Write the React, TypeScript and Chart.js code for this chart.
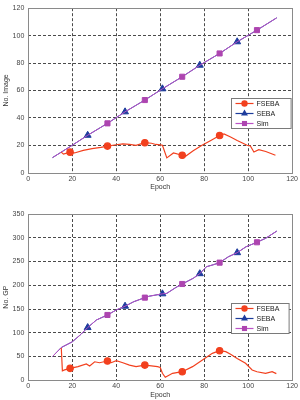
import React, { useEffect, useRef } from 'react';
import { Chart, registerables } from 'chart.js';

Chart.register(...registerables);

const FONT = '"Liberation Sans", Arial, Helvetica, sans-serif';

// ---- Upper panel: No. Image per epoch ----
const imgFsebaEpoch = [15, 16, 19, 21, 25, 29, 33, 36, 40, 43, 46, 49, 53, 56, 58, 60, 61, 63, 66, 70, 71.5, 75, 79, 83, 87, 89, 92, 95, 99.5, 101, 102.6, 104.8, 108, 112.4];
const imgFsebaValue = [15, 13.5, 15, 14.4, 16.3, 17.5, 18.5, 19.4, 20.4, 21, 20.6, 20, 21.9, 21.5, 20.6, 20.3, 20, 10.8, 14.4, 12.7, 12, 16, 20, 23.5, 27.1, 28.3, 26, 23.5, 20, 19.5, 15.1, 16.8, 15.5, 12.7];
const imgSebaEpoch = [11, 19, 27, 36, 44, 53, 61, 70, 78, 87, 95, 104, 113];
const imgSebaValue = [11, 19, 27.3, 36, 44.4, 53, 61.2, 70, 78.4, 87, 95.5, 104, 113];
const imgSimEpoch = [11, 19, 27, 36, 44, 53, 61, 70, 78, 87, 95, 104, 113];
const imgSimValue = [11, 19, 27.3, 36, 44.4, 53, 61.2, 70, 78.4, 87, 95.5, 104, 113];

// ---- Lower panel: No. GP per epoch ----
const gpFsebaEpoch = [15, 15.5, 16.5, 19, 22.6, 26.4, 27.9, 30.2, 32.4, 36, 37.7, 40, 43, 46, 49, 53, 55, 58.8, 60, 61, 62.3, 65.6, 70, 74.7, 79.2, 83.7, 87, 89.8, 92, 95, 98.8, 101.8, 104, 107.9, 110.9, 112.8];
const gpFsebaValue = [68, 20, 22, 25.2, 28.7, 34.3, 30, 39, 37, 40.6, 37, 41.3, 37, 32, 28.7, 32, 31, 28.7, 27, 14.7, 6.3, 14.7, 18.1, 28.7, 42.7, 56.8, 62.3, 60.2, 55, 46, 35.8, 21.7, 18, 14.7, 18, 14];
const gpSebaEpoch = [11, 15, 20, 24, 27, 31, 36, 40, 44, 48, 53, 55, 61, 63, 67, 70, 75, 78, 81, 84, 87, 91, 95, 99, 104, 108, 113];
const gpSebaValue = [50, 69, 81, 97, 111, 127, 137.5, 148, 156, 165.5, 174, 177, 182, 183, 195, 202.7, 214.7, 224.4, 239, 243, 247.6, 260, 268.6, 281, 290.5, 299, 314];
const gpSimEpoch = [11, 15, 20, 24, 27, 31, 36, 40, 44, 48, 53, 55, 61, 63, 67, 70, 75, 78, 81, 84, 87, 91, 95, 99, 104, 108, 113];
const gpSimValue = [50, 69, 81, 97, 111, 127, 137.5, 148, 156, 165.5, 174, 177, 182, 183, 195, 202.7, 214.7, 224.4, 239, 243, 247.6, 260, 268.6, 281, 290.5, 299, 314];

// Epochs that carry a marker on each curve
const fsebaMarkers = [19, 36, 53, 70, 87];
const sebaMarkers = [27, 44, 61, 78, 95];
const simMarkers = [36, 53, 70, 87, 104];

const seriesNames = ['FSEBA', 'SEBA', 'Sim'];
const xTicksMax = 120;

const RED = '#f2401e';
const BLUE = '#1d3c9c';
const PURPLE = '#bb52c6';
const PURPLE_MARK = '#ad45b0';

function pts(xs: number[], ys: number[]) {
  return xs.map((x, i) => ({ x, y: ys[i] }));
}

function markerShape(ctx: CanvasRenderingContext2D, style: string, x: number, y: number, r: number) {
  ctx.beginPath();
  if (style === 'circle') {
    ctx.arc(x, y, r, 0, Math.PI * 2);
  } else if (style === 'triangle') {
    const h = r * 1.5;
    ctx.moveTo(x, y - r);
    ctx.lineTo(x + r * 0.866, y + r * 0.5);
    ctx.lineTo(x - r * 0.866, y + r * 0.5);
    ctx.closePath();
    void h;
  } else {
    const s = r * Math.SQRT1_2;
    ctx.rect(x - s, y - s, 2 * s, 2 * s);
  }
  ctx.fill();
}

// Axes box plus a boxed legend sitting inside the plot area
const framePlugin = {
  id: 'matFrame',
  afterDatasetsDraw(chart: any, _args: any, opts: any) {
    const { ctx, chartArea } = chart;
    ctx.save();
    ctx.strokeStyle = '#8a8a8a';
    ctx.lineWidth = 1;
    ctx.setLineDash([]);
    ctx.strokeRect(
      Math.round(chartArea.left) + 0.5,
      Math.round(chartArea.top) + 0.5,
      Math.round(chartArea.right - chartArea.left),
      Math.round(chartArea.bottom - chartArea.top)
    );

    const bw = opts.width;
    const bh = 30;
    const bx = Math.round(chartArea.right - opts.right - bw) + 0.5;
    const by = Math.round(chartArea.top + opts.top) + 0.5;
    ctx.fillStyle = '#ffffff';
    ctx.fillRect(bx, by, bw, bh);
    ctx.strokeStyle = '#7a7a7a';
    ctx.strokeRect(bx, by, bw, bh);

    ctx.font = `7px ${FONT}`;
    ctx.textBaseline = 'middle';
    ctx.textAlign = 'left';
    chart.data.datasets.forEach((ds: any, i: number) => {
      const y = by + 5 + i * 10;
      ctx.strokeStyle = ds.borderColor;
      ctx.lineWidth = 1.2;
      ctx.beginPath();
      ctx.moveTo(bx + 4, y);
      ctx.lineTo(bx + 22, y);
      ctx.stroke();
      ctx.fillStyle = ds.pointBackgroundColor;
      markerShape(ctx, ds.pointStyle, bx + 13, y, ds.legendRadius);
      ctx.fillStyle = '#222';
      ctx.fillText(ds.label, bx + 25, y + 0.5);
    });
    ctx.restore();
  },
};

type PanelProps = {
  top: number;
  yLabel: string;
  yMax: number;
  yStep: number;
  fseba: { x: number; y: number }[];
  seba: { x: number; y: number }[];
  sim: { x: number; y: number }[];
  padding: { top: number; right: number; bottom: number; left: number };
  xAxisHeight: number;
  legend: { top: number; right: number; width: number };
};

function Panel(p: PanelProps) {
  const ref = useRef<HTMLCanvasElement>(null);

  useEffect(() => {
    if (!ref.current) return;
    const markRadius = (list: number[], r: number) => (c: any) =>
      c.raw && list.includes(c.raw.x) ? r : 0;

    const gridColor = (max: number) => (c: any) =>
      c.tick && (c.tick.value === 0 || c.tick.value === max) ? 'rgba(0,0,0,0)' : '#4a4a4a';

    const tickFont = { family: FONT, size: 7 };

    const chart = new Chart(ref.current, {
      type: 'line',
      data: {
        datasets: [
          {
            label: seriesNames[0],
            data: p.fseba,
            borderColor: RED,
            backgroundColor: RED,
            pointBackgroundColor: RED,
            pointBorderColor: RED,
            pointStyle: 'circle',
            pointRadius: markRadius(fsebaMarkers, 3.2),
            borderWidth: 1.2,
            legendRadius: 3.2,
            order: 1,
          } as any,
          {
            label: seriesNames[1],
            data: p.seba,
            borderColor: BLUE,
            backgroundColor: BLUE,
            pointBackgroundColor: BLUE,
            pointBorderColor: BLUE,
            pointStyle: 'triangle',
            pointRadius: markRadius(sebaMarkers, 4),
            borderWidth: 1,
            legendRadius: 4,
            order: 3,
          } as any,
          {
            label: seriesNames[2],
            data: p.sim,
            borderColor: PURPLE,
            backgroundColor: PURPLE_MARK,
            pointBackgroundColor: PURPLE_MARK,
            pointBorderColor: PURPLE_MARK,
            pointStyle: 'rect',
            pointRadius: markRadius(simMarkers, 3.6),
            borderWidth: 1,
            legendRadius: 3.6,
            order: 2,
          } as any,
        ],
      },
      options: {
        responsive: false,
        animation: false,
        events: [],
        layout: { padding: p.padding },
        elements: { line: { tension: 0 }, point: { borderWidth: 0, hoverRadius: 0 } },
        scales: {
          x: {
            type: 'linear',
            min: 0,
            max: xTicksMax,
            ticks: { stepSize: 20, font: tickFont, color: '#444', padding: 2, maxRotation: 0 },
            grid: { color: gridColor(xTicksMax), drawTicks: false, lineWidth: 1 },
            border: { display: false, dash: [3, 2] },
            title: { display: true, text: 'Epoch', font: { family: FONT, size: 7 }, color: '#333', padding: 0 },
            afterFit: (s: any) => {
              s.height = p.xAxisHeight;
            },
          },
          y: {
            type: 'linear',
            min: 0,
            max: p.yMax,
            ticks: { stepSize: p.yStep, font: tickFont, color: '#444', padding: 4 },
            grid: { color: gridColor(p.yMax), drawTicks: false, lineWidth: 1 },
            border: { display: false, dash: [3, 2] },
            title: { display: true, text: p.yLabel, font: { family: FONT, size: 7 }, color: '#333', padding: 0 },
            afterFit: (s: any) => {
              s.width = 26.3;
            },
          },
        },
        plugins: {
          legend: { display: false },
          tooltip: { enabled: false },
          matFrame: p.legend,
        } as any,
      },
      plugins: [framePlugin],
    });
    return () => chart.destroy();
  }, []);

  return (
    <canvas
      ref={ref}
      width={300}
      height={200}
      style={{ position: 'absolute', left: 0, top: p.top, width: 300, height: 200 }}
    />
  );
}

export default function App() {
  return (
    <div style={{ position: 'fixed', left: 0, top: 0, width: 300, height: 400, background: '#fff' }}>
      <Panel
        top={0}
        yLabel="No. Image"
        yMax={120}
        yStep={20}
        fseba={pts(imgFsebaEpoch, imgFsebaValue)}
        seba={pts(imgSebaEpoch, imgSebaValue)}
        sim={pts(imgSimEpoch, imgSimValue)}
        padding={{ top: 5.7, right: 6.7, bottom: 8.8, left: 2 }}
        xAxisHeight={18.5}
        legend={{ top: 89.3, right: 2, width: 59.6 }}
      />
      <Panel
        top={200}
        yLabel="No. GP"
        yMax={350}
        yStep={50}
        fseba={pts(gpFsebaEpoch, gpFsebaValue)}
        seba={pts(gpSebaEpoch, gpSebaValue)}
        sim={pts(gpSimEpoch, gpSimValue)}
        padding={{ top: 14, right: 7, bottom: 0.7, left: 2 }}
        xAxisHeight={19}
        legend={{ top: 89.3, right: 3.7, width: 57.6 }}
      />
    </div>
  );
}
